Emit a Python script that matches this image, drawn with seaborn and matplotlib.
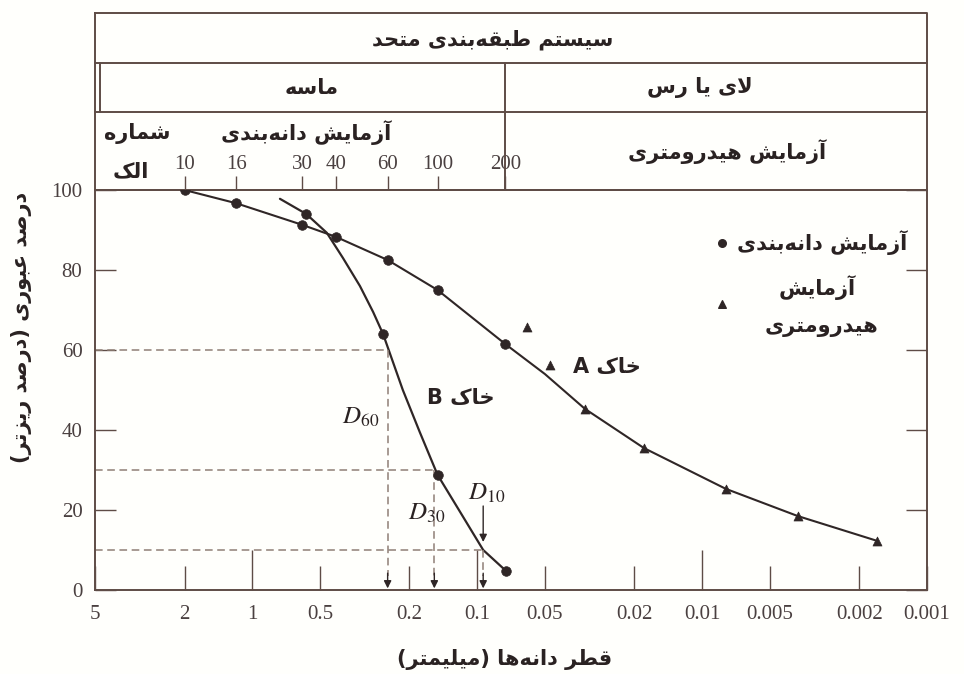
import matplotlib
matplotlib.use("Agg")
import matplotlib.pyplot as plt
import numpy as np
import pandas as pd
import seaborn as sns
from matplotlib.transforms import blended_transform_factory
from matplotlib.ticker import NullLocator

# ---------------------------------------------------------------- data
x_ticks = [5, 2, 1, 0.5, 0.2, 0.1, 0.05, 0.02, 0.01, 0.005, 0.002, 0.001]
x_tick_labels = ["5", "2", "1", "0.5", "0.2", "0.1", "0.05", "0.02", "0.01",
                 "0.005", "0.002", "0.001"]
y_ticks = [0, 20, 40, 60, 80, 100]

sieve_numbers = ["10", "16", "30", "40", "60", "100", "200"]
sieve_openings = [2.0, 1.18, 0.6, 0.425, 0.25, 0.15, 0.075]

# soil A: sieve analysis points, hydrometer points and the drawn curve
soil_a_sieve_d = [2.0, 1.18, 0.6, 0.425, 0.25, 0.15, 0.075]
soil_a_sieve_p = [100, 96.7, 91.3, 88.3, 82.5, 75, 61.5]
soil_a_hydro_d = [0.0332, 0.01815, 0.00785, 0.00376, 0.00167]
soil_a_hydro_p = [45.3, 35.5, 25.3, 18.5, 12.3]
soil_a_extra_d = [0.0600, 0.0475]
soil_a_extra_p = [65.8, 56.3]
soil_a_curve_d = [2.0, 1.18, 0.6, 0.425, 0.25, 0.15, 0.075, 0.05, 0.0332,
                  0.01815, 0.00785, 0.00376, 0.00167]
soil_a_curve_p = [100, 96.7, 91.3, 88.3, 82.5, 75, 61.5, 54, 45.3,
                  35.5, 25.3, 18.5, 12.3]

# soil B: sieve analysis points and the drawn curve
soil_b_sieve_d = [0.575, 0.262, 0.15, 0.0745]
soil_b_sieve_p = [94, 64, 28.8, 4.8]
soil_b_curve_d = [0.753, 0.575, 0.466, 0.395, 0.332, 0.290, 0.262, 0.214,
                  0.18, 0.15, 0.119, 0.094, 0.0745]
soil_b_curve_p = [97.8, 94, 89.3, 83, 76, 69.5, 64, 50,
                  39.5, 28.8, 19.5, 10, 4.8]

# effective sizes of soil B
d_names = ["60", "30", "10"]
d_levels = [60, 30, 10]
d_values = [0.25, 0.155, 0.094]

# ------------------------------------------------------ persian shaping
FORMS = {
    'ا': ('\uFE8D', '\uFE8E', None, None),
    'آ': ('\uFE81', '\uFE82', None, None),
    'ب': ('\uFE8F', '\uFE90', '\uFE91', '\uFE92'),
    'ت': ('\uFE95', '\uFE96', '\uFE97', '\uFE98'),
    'ح': ('\uFEA1', '\uFEA2', '\uFEA3', '\uFEA4'),
    'خ': ('\uFEA5', '\uFEA6', '\uFEA7', '\uFEA8'),
    'د': ('\uFEA9', '\uFEAA', None, None),
    'ر': ('\uFEAD', '\uFEAE', None, None),
    'ز': ('\uFEAF', '\uFEB0', None, None),
    'س': ('\uFEB1', '\uFEB2', '\uFEB3', '\uFEB4'),
    'ش': ('\uFEB5', '\uFEB6', '\uFEB7', '\uFEB8'),
    'ص': ('\uFEB9', '\uFEBA', '\uFEBB', '\uFEBC'),
    'ط': ('\uFEC1', '\uFEC2', '\uFEC3', '\uFEC4'),
    'ع': ('\uFEC9', '\uFECA', '\uFECB', '\uFECC'),
    'ق': ('\uFED5', '\uFED6', '\uFED7', '\uFED8'),
    'ک': ('\uFB8E', '\uFB8F', '\uFB90', '\uFB91'),
    'ل': ('\uFEDD', '\uFEDE', '\uFEDF', '\uFEE0'),
    'م': ('\uFEE1', '\uFEE2', '\uFEE3', '\uFEE4'),
    'ن': ('\uFEE5', '\uFEE6', '\uFEE7', '\uFEE8'),
    'ه': ('\uFEE9', '\uFEEA', '\uFEEB', '\uFEEC'),
    'و': ('\uFEED', '\uFEEE', None, None),
    'ی': ('\uFBFC', '\uFBFD', '\uFBFE', '\uFBFF'),
}
LAM_ALEF = {'ا': ('\uFEFB', '\uFEFC'), 'آ': ('\uFEF5', '\uFEF6')}


def rtl(text):
    """Shape Persian letters into contextual forms and lay them out right to left."""
    def joins_next(c):
        f = FORMS.get(c)
        return f is not None and f[2] is not None

    out = []
    chars = list(text)
    n = len(chars)
    i = 0
    while i < n:
        c = chars[i]
        if c not in FORMS:
            if c != '\u200c':
                out.append(c)
            i += 1
            continue
        before = joins_next(chars[i - 1]) if i > 0 else False
        if c == 'ل' and i + 1 < n and chars[i + 1] in LAM_ALEF:
            out.append(LAM_ALEF[chars[i + 1]][1 if before else 0])
            i += 2
            continue
        after = joins_next(c) and i + 1 < n and chars[i + 1] in FORMS
        iso, fin, ini, med = FORMS[c]
        if before and after:
            g = med
        elif before:
            g = fin
        elif after:
            g = ini
        else:
            g = iso
        out.append(g)
        i += 1
    vis = ''.join(reversed(out))
    return vis.translate(str.maketrans('()', ')('))


# ---------------------------------------------------------------- style
sns.set_theme(style="white")
plt.rcParams['mathtext.fontset'] = 'stix'
INK = '#2f2626'
FRAME = '#5e4c46'
DASH = '#8f7f76'
TXT = '#2a2222'
NUM = '#4a4040'
FA = dict(family='DejaVu Sans', weight='bold', color=TXT)
SERIF = 'Liberation Serif'

W, H = 964, 674
fig = plt.figure(figsize=(W / 100, H / 100), dpi=100, facecolor='#fffffc')
ax = fig.add_axes([95 / W, 1 - 590 / H, 832 / W, 400 / H])
ax.set_facecolor('#fffffc')
ax.set_xscale('log')


def fx(px):
    return px / W


def fy(py):
    return 1 - py / H


# ---------------------------------------------------------------- curves
curve_a = pd.DataFrame({'d': soil_a_curve_d, 'p': soil_a_curve_p})
curve_b = pd.DataFrame({'d': soil_b_curve_d, 'p': soil_b_curve_p})
sns.lineplot(data=curve_a, x='d', y='p', sort=False, estimator=None,
             color=INK, lw=1.5, ax=ax)
sns.lineplot(data=curve_b, x='d', y='p', sort=False, estimator=None,
             color=INK, lw=1.6, ax=ax)

sieve_pts = pd.DataFrame({'d': soil_a_sieve_d + soil_b_sieve_d,
                          'p': soil_a_sieve_p + soil_b_sieve_p})
hydro_pts = pd.DataFrame({'d': soil_a_hydro_d + soil_a_extra_d,
                          'p': soil_a_hydro_p + soil_a_extra_p})
sns.scatterplot(data=sieve_pts, x='d', y='p', marker='o', s=48, color=INK,
                edgecolor=INK, linewidth=0.5, ax=ax, zorder=4)
sns.scatterplot(data=hydro_pts, x='d', y='p', marker='^', s=42, color=INK,
                edgecolor=INK, linewidth=0.5, ax=ax, zorder=4)

# D60, D30, D10 construction lines
for name, lvl, d in zip(d_names, d_levels, d_values):
    ax.plot([5, d], [lvl, lvl], color=DASH, lw=1.1, ls=(0, (5, 3)), zorder=2)
    ax.plot([d, d], [lvl, 3.5], color=DASH, lw=1.1, ls=(0, (5, 3)), zorder=2)
    ax.annotate('', xy=(d, 0.4), xytext=(d, 4.2),
                arrowprops=dict(arrowstyle='-|>', color=INK, lw=1.0,
                                mutation_scale=11, shrinkA=0, shrinkB=0))
ax.annotate('', xy=(d_values[2], 12), xytext=(d_values[2], 21),
            arrowprops=dict(arrowstyle='-|>', color=INK, lw=1.0,
                            mutation_scale=11, shrinkA=0, shrinkB=0))

# ---------------------------------------------------------------- axes
ax.set_xlim(5, 0.001)
ax.set_ylim(0, 100)
ax.set_xlabel('')
ax.set_ylabel('')
ax.set_xticks(x_ticks)
ax.set_xticklabels(x_tick_labels, fontfamily=SERIF, fontsize=15, color=NUM)
ax.xaxis.set_minor_locator(NullLocator())
ax.set_yticks(y_ticks)
ax.set_yticklabels([str(v) for v in y_ticks], fontfamily=SERIF, fontsize=15,
                   color=NUM)
ax.tick_params(axis='x', direction='in', length=17, width=1.0, color=FRAME,
               pad=11, bottom=True)
ax.tick_params(axis='y', direction='in', length=15, width=1.0, color=FRAME,
               pad=9, left=True, right=True)
for tick, v in zip(ax.xaxis.get_major_ticks(), x_ticks):
    if v in (1, 0.1, 0.01):
        tick.tick1line.set_markersize(29)
for sp in ax.spines.values():
    sp.set_color(FRAME)
    sp.set_linewidth(1.4)

# sieve numbers along the top edge
sec = ax.secondary_xaxis('top')
sec.set_xticks(sieve_openings)
sec.set_xticklabels(sieve_numbers, fontfamily=SERIF, fontsize=15, color=NUM)
sec.xaxis.set_minor_locator(NullLocator())
sec.tick_params(axis='x', direction='out', length=10, width=1.0, color=FRAME,
                pad=1.5)
sec.spines['top'].set_color(FRAME)
sec.spines['top'].set_linewidth(1.4)

# ------------------------------------------------ classification table
tb = blended_transform_factory(ax.transData, fig.transFigure)
tbl = dict(color=FRAME, lw=1.4, transform=tb, clip_on=False)
ax.plot([5, 0.001, 0.001, 5, 5],
        [fy(13), fy(13), fy(190), fy(190), fy(13)], **tbl)
ax.plot([5, 0.001], [fy(63), fy(63)], **tbl)
ax.plot([5, 0.001], [fy(112), fy(112)], **tbl)
ax.plot([0.075, 0.075], [fy(63), fy(190)], **tbl)
ax.plot([4.75, 4.75], [fy(63), fy(112)], **tbl)

fig.text(fx(493), fy(40), rtl("سیستم طبقه‌بندی متحد"), ha='center',
         va='center', fontsize=15, **FA)
fig.text(fx(312), fy(88), rtl("ماسه"), ha='center', va='center',
         fontsize=15, **FA)
fig.text(fx(700), fy(88), rtl("لای یا رس"), ha='center', va='center',
         fontsize=15, **FA)
fig.text(fx(306), fy(133), rtl("آزمایش دانه‌بندی"), ha='center',
         va='center', fontsize=15, **FA)
fig.text(fx(137), fy(133), rtl("شماره"), ha='center', va='center',
         fontsize=15, **FA)
fig.text(fx(131), fy(171), rtl("الک"), ha='center', va='center',
         fontsize=15, **FA)
fig.text(fx(727), fy(152), rtl("آزمایش هیدرومتری"), ha='center',
         va='center', fontsize=15, **FA)

# ------------------------------------------------ labels inside the plot
fig.text(fx(461), fy(398), rtl("خاک B"), ha='center', va='center',
         fontsize=15, **FA)
fig.text(fx(607), fy(367), rtl("خاک A"), ha='center', va='center',
         fontsize=15, **FA)
d_pos = [(361, 417), (427, 513), (487, 493)]
for name, (px, py) in zip(d_names, d_pos):
    fig.text(fx(px), fy(py), r'$D_{%s}$' % name, ha='center', va='center',
             fontsize=18, color=TXT)

# key for the two kinds of test
ax.scatter([0.00817], [86.75], marker='o', s=30, color=INK, zorder=4)
ax.scatter([0.00817], [71.5], marker='^', s=30, color=INK, zorder=4)
fig.text(fx(822), fy(243), rtl("آزمایش دانه‌بندی"), ha='center',
         va='center', fontsize=15, **FA)
fig.text(fx(817), fy(288), rtl("آزمایش"), ha='center', va='center',
         fontsize=15, **FA)
fig.text(fx(822), fy(327), rtl("هیدرومتری"), ha='center', va='center',
         fontsize=15, **FA)

# ------------------------------------------------ axis titles
fig.text(fx(505), fy(660), rtl("قطر دانه‌ها (میلیمتر)"), ha='center',
         va='center', fontsize=15, **FA)
fig.text(fx(22), fy(327), rtl("درصد عبوری (درصد ریزتر)"), ha='center',
         va='center', rotation=90, fontsize=15, **FA)

fig.savefig('out.png', dpi=100, facecolor=fig.get_facecolor())
